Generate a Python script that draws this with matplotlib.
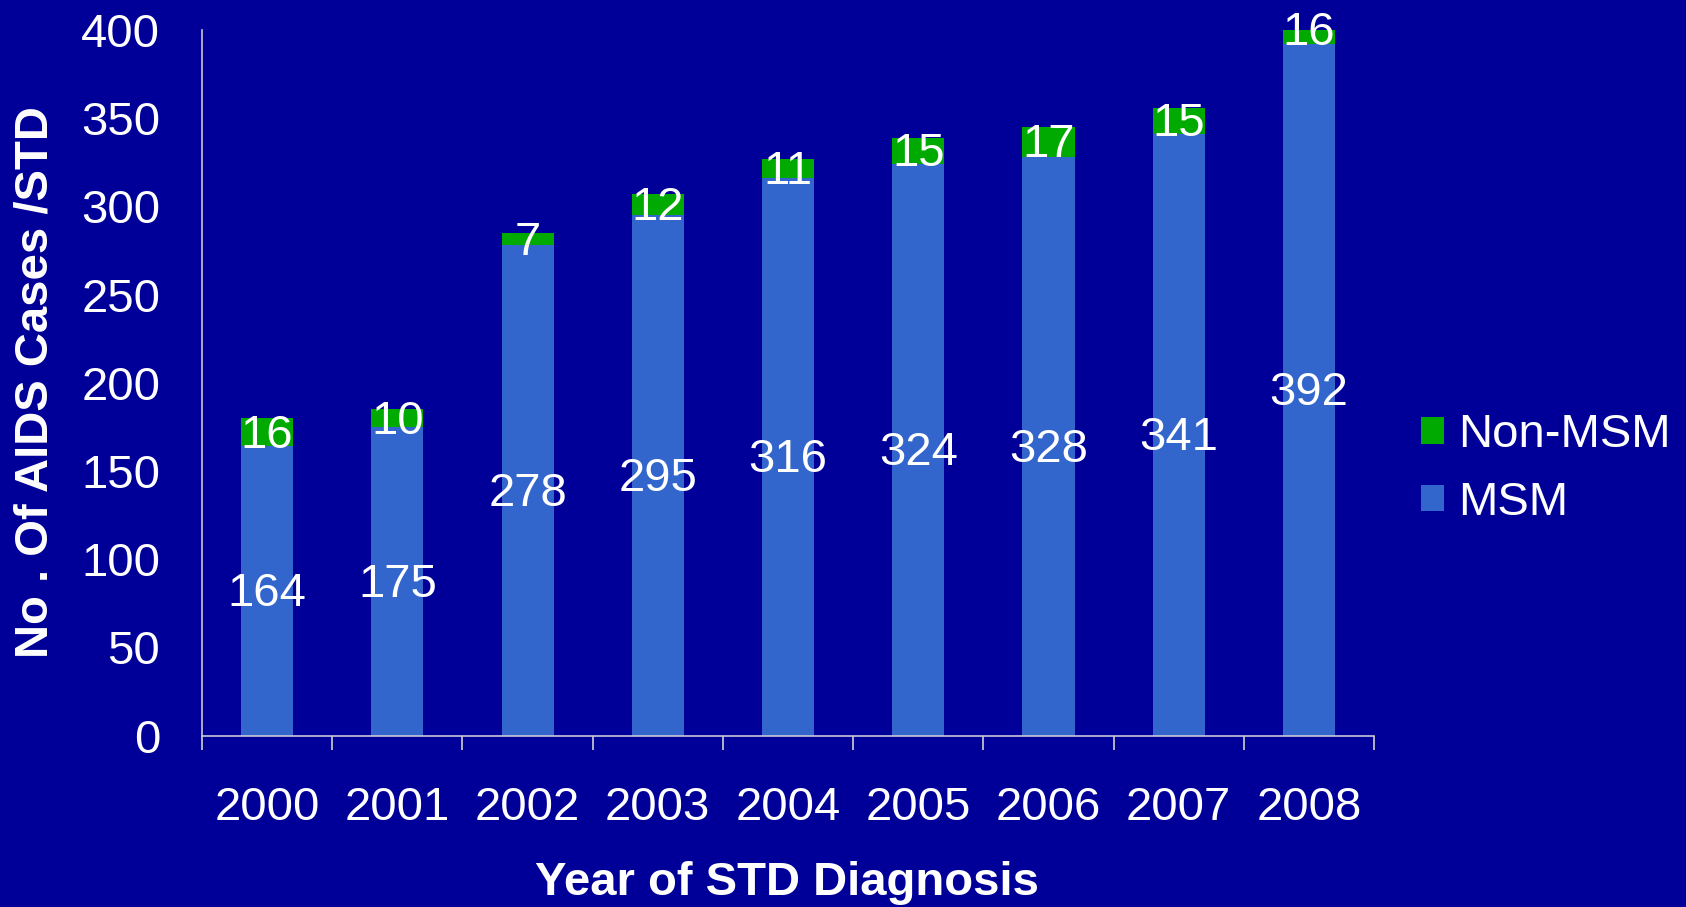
import matplotlib
matplotlib.use('Agg')
import matplotlib.pyplot as plt
import numpy as np

# datos del grafico
years = ['2000', '2001', '2002', '2003', '2004', '2005', '2006', '2007', '2008']
msm = [164, 175, 278, 295, 316, 324, 328, 341, 392]
non_msm = [16, 10, 7, 12, 11, 15, 17, 15, 16]
y_ticks = [0, 50, 100, 150, 200, 250, 300, 350, 400]

plt.rcParams['font.family'] = ['Liberation Sans', 'DejaVu Sans']

bg = '#000099'
c_msm = '#3366CC'
c_non = '#00AA00'
fs = 34

fig = plt.figure(figsize=(16.86, 9.07), dpi=100, facecolor=bg)
ax = fig.add_axes([0.1198, 0.189, 0.6952, 0.778])
ax.set_facecolor(bg)

x = np.arange(len(years))
b1 = ax.bar(x, msm, width=0.4, color=c_msm, label='MSM')
b2 = ax.bar(x, non_msm, width=0.4, bottom=msm, color=c_non, label='Non-MSM')

# etiquetas dentro de cada segmento (un poco abajo del centro)
for i in range(len(years)):
    ax.text(x[i], msm[i] / 2 - 2, str(msm[i]), ha='center', va='center',
            color='white', fontsize=fs)
    ax.text(x[i], msm[i] + non_msm[i] / 2 - 2, str(non_msm[i]), ha='center',
            va='center', color='white', fontsize=fs)

ax.set_xlim(-0.5, len(years) - 0.5)
ax.set_ylim(0, 400)
ax.set_yticks(y_ticks)
ax.tick_params(axis='y', length=0, pad=30, labelsize=fs, labelcolor='white')
ax.set_xticks(x)
ax.set_xticklabels(years)
ax.tick_params(axis='x', which='major', length=0, pad=36, labelsize=fs,
               labelcolor='white')
ax.set_xticks(np.arange(-0.5, len(years)), minor=True)
ax.tick_params(axis='x', which='minor', length=10, width=1.2, color='#D0D0D0',
               direction='out')

for s in ['top', 'right']:
    ax.spines[s].set_visible(False)
for s in ['left', 'bottom']:
    ax.spines[s].set_color('#C8C8D8')
    ax.spines[s].set_linewidth(1.2)

fig.text(0.021, 0.579, 'No . Of AIDS Cases /STD', rotation=90, ha='center',
         va='center', color='white', fontsize=fs, fontweight='bold')
fig.text(0.467, 0.026, 'Year of STD Diagnosis', ha='center', va='center',
         color='white', fontsize=fs, fontweight='bold')

leg = fig.legend([b2, b1], ['Non-MSM', 'MSM'], loc='center left',
                 bbox_to_anchor=(0.843, 0.483), frameon=False, fontsize=fs,
                 handlelength=0.49, handleheight=0.49, handletextpad=0.3,
                 labelspacing=0.5, borderpad=0, borderaxespad=0)
for t in leg.get_texts():
    t.set_color('white')

fig.savefig('out.png', dpi=100, facecolor=bg)
